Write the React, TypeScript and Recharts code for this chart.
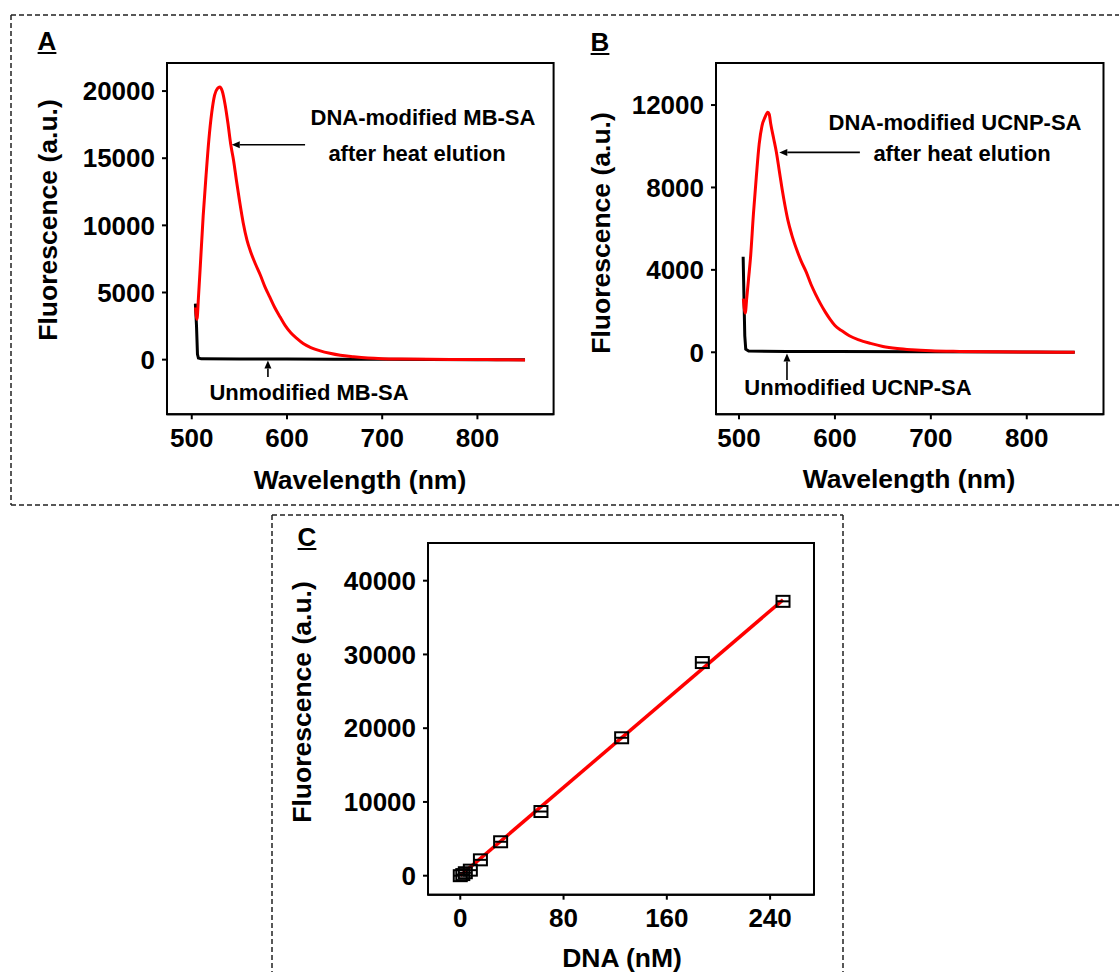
import { ComposedChart, Line, LineChart, ReferenceArea, ReferenceLine, Scatter, XAxis, YAxis } from 'recharts';

// panel A: magnetic beads (MB-SA)
const mbDnaNm = [504, 505.5, 507, 509, 512, 515, 518, 521, 524, 527, 529.5, 532, 535, 538, 541, 544, 547, 550, 554, 558, 562, 567, 572, 577, 582, 587, 593, 598, 604, 610, 617, 625, 635, 645, 656, 670, 685, 700, 720, 750, 780, 820, 850];
const mbDnaSignal = [3900, 3000, 4600, 7000, 10700, 13700, 16400, 18400, 19700, 20200, 20300, 20000, 19000, 17600, 16000, 14800, 13300, 11900, 10200, 8900, 8000, 7100, 6300, 5400, 4650, 3900, 3150, 2550, 2000, 1600, 1200, 900, 650, 470, 320, 210, 120, 70, 40, 20, 10, 0, -20];
const mbBlankNm = [503.8, 505, 506, 507, 510, 550, 600, 650, 700, 750, 800, 850];
const mbBlankSignal = [4170, 2500, 400, 120, 60, 40, 40, 30, 20, 10, 0, 0];

// panel B: upconversion nanoparticles (UCNP-SA)
const ucnpDnaNm = [504.5, 506.5, 508, 510, 512, 515, 518, 521, 524, 527, 530, 531.5, 533, 536, 539, 542, 545, 548, 551, 555, 560, 565, 570, 575, 580, 585, 590, 595, 600, 607, 615, 625, 637, 650, 665, 680, 700, 730, 770, 810, 850];
const ucnpDnaSignal = [2600, 1900, 2600, 3600, 4600, 6700, 8500, 10100, 11000, 11400, 11650, 11550, 11100, 10400, 9700, 8800, 7900, 7100, 6400, 5700, 5000, 4400, 3900, 3300, 2800, 2350, 1950, 1600, 1300, 1050, 800, 600, 430, 280, 180, 120, 70, 40, 20, 10, 0];
const ucnpBlankNm = [504.3, 505, 506, 507, 510, 550, 600, 700, 850];
const ucnpBlankSignal = [4640, 3000, 800, 150, 60, 40, 40, 20, 0];

// panel C: calibration
const dnaConc = [0, 1.95, 3.9, 7.8, 15.6, 31.25, 62.5, 125, 187.5, 250];
const dnaSignal = [0, 150, 400, 750, 2150, 4600, 8700, 18700, 28900, 37200];
const fitConc = [0, 250];
const fitSignal = [0, 37400];

const wavelengthTicks = [500, 600, 700, 800];
const mbTicks = [0, 5000, 10000, 15000, 20000];
const ucnpTicks = [0, 4000, 8000, 12000];
const concTicks = [0, 80, 160, 240];
const calTicks = [0, 10000, 20000, 30000, 40000];

const mbX: [number, number] = [474, 880];
const mbY: [number, number] = [-4070, 22090];
const ucnpX: [number, number] = [476, 880];
const ucnpY: [number, number] = [-3010, 14040];
const calX: [number, number] = [-25, 274];
const calY: [number, number] = [-2576, 45110];

const zip = (xs: number[], ys: number[]) => xs.map((x, i) => ({ x, y: ys[i] }));

const FONT = '"Liberation Sans", Arial, sans-serif';
const tickStyle = { fill: '#000', fontSize: 26, fontWeight: 700, fontFamily: FONT };
const axisLine = { stroke: '#000', strokeWidth: 2 };
const tickLine = { stroke: '#000', strokeWidth: 2 };
const Y_W = 110;

const Arrow = ({ x1, y1, x2, y2 }: any) => {
  const a = Math.atan2(y2 - y1, x2 - x1);
  const bx = x2 - 8 * Math.cos(a);
  const by = y2 - 8 * Math.sin(a);
  const px = -Math.sin(a) * 3.5;
  const py = Math.cos(a) * 3.5;
  return (
    <g>
      <line x1={x1} y1={y1} x2={bx} y2={by} stroke="#000" strokeWidth={1.6} />
      <polygon points={`${x2},${y2} ${bx + px},${by + py} ${bx - px},${by - py}`} fill="#000" />
    </g>
  );
};

const Txt = ({ x, y, size = 22, rotate = false, underline = false, children }: any) => (
  <div
    style={{
      position: 'absolute',
      left: x,
      top: y,
      transform: `translate(-50%, -50%)${rotate ? ' rotate(-90deg)' : ''}`,
      whiteSpace: 'nowrap',
      fontFamily: FONT,
      fontWeight: 700,
      fontSize: size,
      lineHeight: 1,
      textDecoration: underline ? 'underline' : 'none',
      color: '#000',
    }}
  >
    {children}
  </div>
);

const SquareMark = ({ cx, cy }: any) => (
  <g stroke="#000" strokeWidth={2} fill="none">
    <rect x={cx - 6.5} y={cy - 5.5} width={13} height={11} />
    <line x1={cx - 6.5} x2={cx + 6.5} y1={cy} y2={cy} />
  </g>
);

const place = (left: number, top: number) => ({ position: 'absolute' as const, left, top });

export default function App() {
  return (
    <div style={{ position: 'absolute', left: 0, top: 0, width: 1119, height: 972, overflow: 'hidden', background: '#fff' }}>
      <svg width={1119} height={972} style={{ position: 'absolute', left: 0, top: 0 }}>
        <g stroke="#222" strokeWidth={1.5} strokeDasharray="5 3">
          <line x1={11} y1={15} x2={1119} y2={15} />
          <line x1={11} y1={15} x2={11} y2={505} />
          <line x1={11} y1={505} x2={1119} y2={505} />
          <line x1={272} y1={515} x2={843} y2={515} />
          <line x1={272} y1={515} x2={272} y2={972} />
          <line x1={843} y1={515} x2={843} y2={972} />
        </g>
      </svg>

      {/* A */}
      <div style={place(167 - Y_W, 52.7)}>
        <LineChart width={Y_W + 396.6} height={401.3} margin={{ top: 10, right: 10, bottom: 0, left: 0 }}>
          <XAxis dataKey="x" type="number" domain={mbX} ticks={wavelengthTicks} height={40} tick={tickStyle} tickSize={5} tickMargin={9} axisLine={axisLine} tickLine={tickLine} />
          <YAxis type="number" domain={mbY} ticks={mbTicks} width={Y_W} tick={tickStyle} tickSize={5} tickMargin={7} axisLine={axisLine} tickLine={tickLine} />
          <ReferenceArea x1={mbX[0]} x2={mbX[1]} y1={mbY[0]} y2={mbY[1]} fill="none" stroke="#000" strokeWidth={2} />
          <Line data={zip(mbBlankNm, mbBlankSignal)} dataKey="y" stroke="#000" strokeWidth={3} dot={false} isAnimationActive={false} />
          <Line type="monotone" data={zip(mbDnaNm, mbDnaSignal)} dataKey="y" stroke="#ff0000" strokeWidth={3} dot={false} isAnimationActive={false} />
          <ReferenceLine segment={[{ x: 619, y: 16000 }, { x: 542, y: 16000 }]} shape={Arrow} />
          <ReferenceLine segment={[{ x: 580, y: -1300 }, { x: 580, y: -60 }]} shape={Arrow} />
        </LineChart>
      </div>

      {/* B */}
      <div style={place(715.7 - Y_W, 53)}>
        <LineChart width={Y_W + 397.5} height={401.3} margin={{ top: 10, right: 10, bottom: 0, left: 0 }}>
          <XAxis dataKey="x" type="number" domain={ucnpX} ticks={wavelengthTicks} height={40} tick={tickStyle} tickSize={5} tickMargin={9} axisLine={axisLine} tickLine={tickLine} />
          <YAxis type="number" domain={ucnpY} ticks={ucnpTicks} width={Y_W} tick={tickStyle} tickSize={5} tickMargin={7} axisLine={axisLine} tickLine={tickLine} />
          <ReferenceArea x1={ucnpX[0]} x2={ucnpX[1]} y1={ucnpY[0]} y2={ucnpY[1]} fill="none" stroke="#000" strokeWidth={2} />
          <Line data={zip(ucnpBlankNm, ucnpBlankSignal)} dataKey="y" stroke="#000" strokeWidth={3} dot={false} isAnimationActive={false} />
          <Line type="monotone" data={zip(ucnpDnaNm, ucnpDnaSignal)} dataKey="y" stroke="#ff0000" strokeWidth={3} dot={false} isAnimationActive={false} />
          <ReferenceLine segment={[{ x: 626, y: 9700 }, { x: 542, y: 9700 }]} shape={Arrow} />
          <ReferenceLine segment={[{ x: 550, y: -1350 }, { x: 550, y: -60 }]} shape={Arrow} />
        </LineChart>
      </div>

      {/* C */}
      <div style={place(428 - Y_W, 533.3)}>
        <ComposedChart width={Y_W + 396} height={401.7} margin={{ top: 10, right: 10, bottom: 0, left: 0 }}>
          <XAxis dataKey="x" type="number" domain={calX} ticks={concTicks} height={40} tick={tickStyle} tickSize={5} tickMargin={9} axisLine={axisLine} tickLine={tickLine} />
          <YAxis type="number" domain={calY} ticks={calTicks} width={Y_W} tick={tickStyle} tickSize={5} tickMargin={7} axisLine={axisLine} tickLine={tickLine} />
          <ReferenceArea x1={calX[0]} x2={calX[1]} y1={calY[0]} y2={calY[1]} fill="none" stroke="#000" strokeWidth={2} />
          <Scatter data={zip(dnaConc, dnaSignal)} dataKey="y" shape={SquareMark} isAnimationActive={false} />
          <Line data={zip(fitConc, fitSignal)} dataKey="y" stroke="#ff0000" strokeWidth={3.5} dot={false} isAnimationActive={false} />
        </ComposedChart>
      </div>

      <Txt x={47} y={41} size={26} underline>A</Txt>
      <Txt x={600} y={42} size={26} underline>B</Txt>
      <Txt x={307} y={537} size={26} underline>C</Txt>

      <Txt x={48} y={220} size={26.5} rotate>Fluorescence (a.u.)</Txt>
      <Txt x={601} y={233} size={26.5} rotate>Fluorescence (a.u.)</Txt>
      <Txt x={302} y={702} size={26.5} rotate>Fluorescence (a.u.)</Txt>
      <Txt x={360} y={480} size={26.5}>Wavelength (nm)</Txt>
      <Txt x={909} y={479} size={26.5}>Wavelength (nm)</Txt>
      <Txt x={622} y={958} size={26.5}>DNA (nM)</Txt>

      <Txt x={423} y={118}>DNA-modified MB-SA</Txt>
      <Txt x={417} y={154}>after heat elution</Txt>
      <Txt x={309} y={393}>Unmodified MB-SA</Txt>
      <Txt x={955} y={123}>DNA-modified UCNP-SA</Txt>
      <Txt x={962} y={154}>after heat elution</Txt>
      <Txt x={858} y={388}>Unmodified UCNP-SA</Txt>
    </div>
  );
}
